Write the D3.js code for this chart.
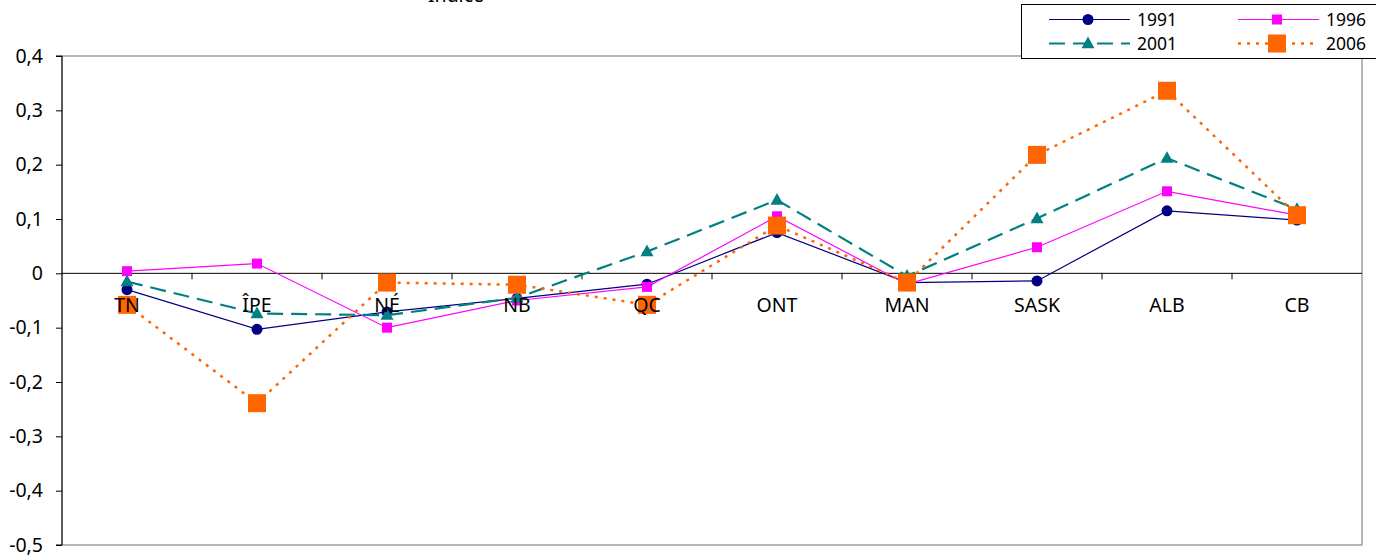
<!DOCTYPE html>
<html><head><meta charset="utf-8">
<script src="https://cdn.jsdelivr.net/npm/d3@7"></script>
<style>body{margin:0;background:#fff}svg{display:block}text{font-family:"Noto Sans",sans-serif;fill:#000}</style>
</head><body>
<script>
const categories = ["TN","ÎPE","NÉ","NB","QC","ONT","MAN","SASK","ALB","CB"];
const yTicks = [0.4,0.3,0.2,0.1,0,-0.1,-0.2,-0.3,-0.4,-0.5];
const v1991 = [-0.03,-0.103,-0.071,-0.046,-0.02,0.075,-0.017,-0.014,0.115,0.098];
const v1996 = [0.004,0.018,-0.10,-0.05,-0.025,0.105,-0.02,0.048,0.151,0.107];
const v2001 = [-0.015,-0.074,-0.077,-0.045,0.04,0.135,-0.005,0.101,0.212,0.118];
const v2006 = [-0.058,-0.239,-0.017,-0.021,-0.058,0.088,-0.017,0.218,0.336,0.107];
const seriesNames = ["1991","1996","2001","2006"];

const W=1376,H=558, FS="19.5px";
const pL=62,pR=1362,pT=56,pB=545;
const svg=d3.select("body").append("svg").attr("width",W).attr("height",H);
const x=d3.scaleBand().domain(categories).range([pL,pR]);
const y=d3.scaleLinear().domain([-0.5,0.4]).range([pB,pT]);
const fmt=d=>Math.abs(d)<1e-9?"0":d3.format(".1f")(d).replace(".",",").replace("−","-");

// plot border
svg.append("rect").attr("x",pL).attr("y",pT).attr("width",pR-pL).attr("height",pB-pT)
  .attr("fill","none").attr("stroke","#868686").attr("stroke-width",1.2);

// y axis
const ya=svg.append("g").attr("transform",`translate(${pL},0)`)
  .call(d3.axisLeft(y).tickValues(yTicks).tickFormat(fmt).tickSize(6).tickPadding(13));
ya.select(".domain").attr("stroke","#000").attr("d",`M-6,${pT}H0V${pB}H-6`);
ya.selectAll("text").style("font-size",FS).attr("font-family","Noto Sans").attr("fill","#000");
ya.selectAll("line").attr("stroke","#000");

// zero axis with category ticks
const xa=svg.append("g").attr("transform",`translate(0,${y(0)})`);
xa.append("line").attr("x1",pL).attr("x2",pR).attr("stroke","#000").attr("stroke-width",1);
xa.selectAll("line.tk").data(categories.slice(1)).join("line").attr("class","tk")
  .attr("x1",d=>x(d)).attr("x2",d=>x(d)).attr("y1",0).attr("y2",6).attr("stroke","#000");

// title (cut off at top, as in the original)
svg.append("text").attr("x",456).attr("y",2).attr("text-anchor","middle").style("font-size",FS).text("Indice");

const cx=(d,i)=>x(categories[i])+x.bandwidth()/2;
const line=d3.line().x(cx).y(d=>y(d));

const styles=[
 {data:v1991,color:"#000080",w:1.2,dash:null,marker:"circle",size:5.5},
 {data:v1996,color:"#FF00FF",w:1.2,dash:null,marker:"square",size:10},
 {data:v2001,color:"#008080",w:2.2,dash:"16,8",marker:"triangle",size:13},
 {data:v2006,color:"#FF6600",w:2.5,dash:"3,6",marker:"square",size:18}
];

function drawMarker(g,s,px,py){
  if(s.marker==="circle") g.append("circle").attr("cx",px).attr("cy",py).attr("r",s.size).attr("fill",s.color);
  else if(s.marker==="square") g.append("rect").attr("x",px-s.size/2).attr("y",py-s.size/2).attr("width",s.size).attr("height",s.size).attr("fill",s.color);
  else { const h=s.size*0.9, w=s.size;
    g.append("path").attr("d",`M${px},${py-h*0.6}L${px+w/2},${py+h*0.4}L${px-w/2},${py+h*0.4}Z`).attr("fill",s.color); }
}

styles.forEach(s=>{
  const g=svg.append("g");
  g.append("path").datum(s.data).attr("d",line).attr("fill","none").attr("stroke",s.color)
   .attr("stroke-width",s.w).attr("stroke-dasharray",s.dash);
  s.data.forEach((d,i)=>drawMarker(g,s,cx(d,i),y(d)));
});

// category labels drawn over the series
svg.append("g").attr("transform",`translate(0,${y(0)})`)
  .selectAll("text").data(categories).join("text")
  .attr("x",d=>x(d)+x.bandwidth()/2).attr("y",39).attr("text-anchor","middle")
  .style("font-size",FS).text(d=>d);

// legend
const lg=svg.append("g");
lg.append("rect").attr("x",1021.5).attr("y",4.5).attr("width",370).attr("height",54).attr("fill","#fff").attr("stroke","#000").attr("stroke-width",1);
const pos=[[1049,19.5],[1238,19.5],[1049,43.5],[1238,43.5]];
styles.forEach((s,i)=>{
  const [lx,ly]=pos[i];
  lg.append("line").attr("x1",lx).attr("x2",lx+81).attr("y1",ly).attr("y2",ly).attr("stroke",s.color)
    .attr("stroke-width",s.w).attr("stroke-dasharray",s.dash);
  drawMarker(lg,s,lx+39,ly);
  lg.append("text").attr("x",lx+88).attr("y",ly+6.5).style("font-size","17.5px").text(seriesNames[i]);
});
</script>
</body></html>
